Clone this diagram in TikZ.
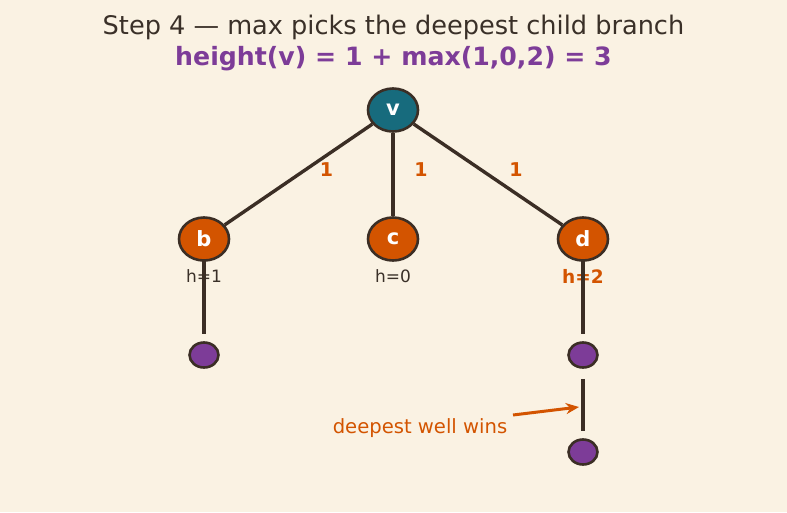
\documentclass[tikz,border=0pt]{standalone}
\usepackage{fontspec}
\setmainfont{DejaVu Sans}
\usetikzlibrary{arrows.meta,shapes.geometric}
\definecolor{paper}{HTML}{FAF2E3}
\definecolor{ink}{HTML}{3A3028}
\definecolor{rim}{HTML}{3B2E25}
\definecolor{grape}{HTML}{7D3C98}
\definecolor{rust}{HTML}{D35400}
\definecolor{teal}{HTML}{176B7D}
\tikzset{
  treenode/.style={draw=rim, line width=2.6pt, ellipse, inner sep=0pt, minimum width=50pt, minimum height=43pt, font=\fontsize{21}{21}\selectfont\bfseries, text=white},
  rootnode/.style={treenode, fill=teal},
  kidnode/.style={treenode, fill=rust},
  leafnode/.style={draw=rim, line width=2.6pt, ellipse, fill=grape, minimum width=29pt, minimum height=25pt, inner sep=0pt},
  branch/.style={draw=rim, line width=3.4pt},
  weight/.style={text=rust, font=\fontsize{19}{19}\selectfont\bfseries},
  hlabel/.style={text=ink, font=\fontsize{17}{17}\selectfont}
}
\begin{document}
\begin{tikzpicture}[x=1pt, y=-1pt]
\fill[paper] (0,0) rectangle (787,512);
\useasboundingbox (0,0) rectangle (787,512);
\node[text=ink, font=\fontsize{25.6}{26}\selectfont] (title) at (393.5,27) {Step 4 — max picks the deepest child branch};
\node[text=grape, font=\fontsize{25.2}{26}\selectfont\bfseries] (formula) at (393.5,58.5) {height(v) = 1 + max(1,0,2) = 3};
% the tree
\node[leafnode] (bleaf) at (204,355) {};
\node[leafnode] (dleaf) at (583,355) {};
\node[leafnode] (dleaf2) at (583,452) {};
\node[hlabel] (hb) at (204,276) {h=1};
\node[hlabel] (hc) at (393,276) {h=0};
\node[hlabel, text=rust, font=\fontsize{18.5}{19}\selectfont\bfseries] (hd) at (583,276) {h=2};
\draw[branch, shorten >=7pt] (204,239) -- (bleaf);
\draw[branch, shorten >=7pt] (583,239) -- (dleaf);
\draw[branch, shorten <=10pt, shorten >=7pt] (dleaf) -- (dleaf2);
\node[rootnode] (v) at (393,110) {v};
\node[kidnode] (b) at (204,239) {b};
\node[kidnode] (c) at (393,239) {c};
\node[kidnode] (d) at (583,239) {d};
\draw[branch] (v) -- (b) node[weight, midway, xshift=28pt, yshift=5pt] {1};
\draw[branch] (v) -- (c) node[weight, midway, xshift=28pt, yshift=5pt] {1};
\draw[branch] (v) -- (d) node[weight, midway, xshift=28pt, yshift=5pt] {1};
% annotation
\node[text=rust, font=\fontsize{19.6}{20}\selectfont] (note) at (420,428) {deepest well wins};
\coordinate (tail) at (513,415);
\coordinate (tip) at (579,407);
\draw[rust, line width=3pt, -{Stealth[length=13pt, width=11pt]}] (tail) -- (tip);
\end{tikzpicture}
\end{document}
